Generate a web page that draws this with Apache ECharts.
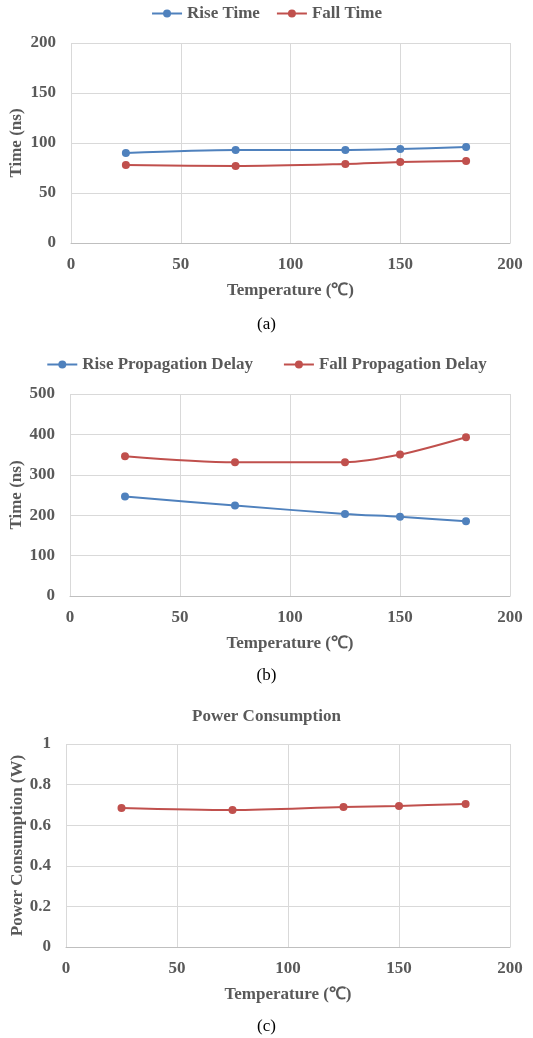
<!DOCTYPE html>
<html>
<head>
<meta charset="utf-8">
<script src="https://cdn.jsdelivr.net/npm/echarts@6/dist/echarts.min.js"></script>
<style>
html,body{margin:0;padding:0;background:#fff;}
#c{width:533px;height:1038px;}
</style>
</head>
<body>
<div id="c"></div>
<script>
// Data
const temperatures = [25, 75, 125, 150, 180];
const riseTime = [90, 93, 93, 94, 96];
const fallTime = [78, 77, 79, 81, 82];
const risePropDelay = [246, 224, 203, 196, 185];
const fallPropDelay = [346, 331, 331, 350, 393];
const powerConsumption = [0.685, 0.675, 0.69, 0.695, 0.705];

const FONT = '"Liberation Serif", "Times New Roman", serif';
const GREY = '#595959';
const BLUE = '#4F81BD';
const RED = '#C0504D';

function pairs(xs, ys) { return xs.map((x, i) => [x, ys[i]]); }

function xAxisDef(gi) {
  return {
    gridIndex: gi, type: 'value', min: 0, max: 200, interval: 50,
    name: 'Temperature (℃)', nameLocation: 'middle', nameGap: 39, nameMoveOverlap: false,
    nameTextStyle: {fontFamily: FONT, fontWeight: 'bold', fontSize: 17, color: GREY},
    axisLine: {show: true, lineStyle: {color: '#bfbfbf', width: 1}},
    axisTick: {show: false},
    axisLabel: {fontFamily: FONT, fontWeight: 'bold', fontSize: 17, color: GREY, margin: 13},
    splitLine: {show: true, lineStyle: {color: '#d9d9d9', width: 1}}
  };
}
function yAxisDef(gi, max, interval, name, gap) {
  return {
    gridIndex: gi, type: 'value', min: 0, max: max, interval: interval,
    name: name, nameLocation: 'middle', nameGap: gap, nameMoveOverlap: false,
    nameTextStyle: {fontFamily: FONT, fontWeight: 'bold', fontSize: 17, color: GREY},
    axisLine: {show: false}, axisTick: {show: false},
    axisLabel: {fontFamily: FONT, fontWeight: 'bold', fontSize: 17, color: GREY, margin: 15},
    splitLine: {show: true, lineStyle: {color: '#d9d9d9', width: 1}}
  };
}
function lineSeries(name, color, xi, yi, data) {
  return {
    name: name, type: 'line', xAxisIndex: xi, yAxisIndex: yi,
    data: data, smooth: 0.3, symbol: 'circle', symbolSize: 8,
    lineStyle: {color: color, width: 2}, itemStyle: {color: color},
    animation: false
  };
}

const legendText = {fontFamily: FONT, fontWeight: 'bold', fontSize: 17, color: GREY};

const chart = echarts.init(document.getElementById('c'), null, {renderer: 'canvas'});
chart.setOption({
  backgroundColor: '#fff',
  animation: false,
  title: [
    {text: 'Power Consumption', left: 'center', top: 703, textStyle: {fontFamily: FONT, fontWeight: 'bold', fontSize: 17, color: GREY}},
    {text: '(a)', left: 'center', top: 311, textStyle: {fontFamily: FONT, fontWeight: 'normal', fontSize: 17, color: '#000'}},
    {text: '(b)', left: 'center', top: 662, textStyle: {fontFamily: FONT, fontWeight: 'normal', fontSize: 17, color: '#000'}},
    {text: '(c)', left: 'center', top: 1013, textStyle: {fontFamily: FONT, fontWeight: 'normal', fontSize: 17, color: '#000'}}
  ],
  legend: [
    {data: ['Rise Time', 'Fall Time'], top: 0, left: 'center', itemWidth: 30, itemHeight: 10, itemGap: 16, textStyle: legendText},
    {data: ['Rise Propagation Delay', 'Fall Propagation Delay'], top: 351, left: 'center', itemWidth: 30, itemHeight: 10, itemGap: 30, textStyle: legendText}
  ],
  grid: [
    {left: 71, top: 43, width: 439, height: 200, containLabel: false, outerBoundsMode: 'none'},
    {left: 70, top: 394, width: 440, height: 202, containLabel: false, outerBoundsMode: 'none'},
    {left: 66, top: 744, width: 444, height: 203, containLabel: false, outerBoundsMode: 'none'}
  ],
  xAxis: [xAxisDef(0), xAxisDef(1), xAxisDef(2)],
  yAxis: [
    yAxisDef(0, 200, 50, 'Time (ns)', 46),
    yAxisDef(1, 500, 100, 'Time (ns)', 45),
    yAxisDef(2, 1, 0.2, 'Power Consumption (W)', 40)
  ],
  series: [
    lineSeries('Rise Time', BLUE, 0, 0, pairs(temperatures, riseTime)),
    lineSeries('Fall Time', RED, 0, 0, pairs(temperatures, fallTime)),
    lineSeries('Rise Propagation Delay', BLUE, 1, 1, pairs(temperatures, risePropDelay)),
    lineSeries('Fall Propagation Delay', RED, 1, 1, pairs(temperatures, fallPropDelay)),
    lineSeries('Power Consumption', RED, 2, 2, pairs(temperatures, powerConsumption))
  ]
});
</script>
</body>
</html>
